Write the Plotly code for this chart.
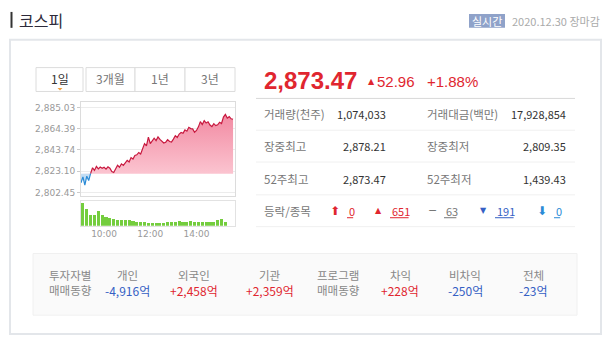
import numpy as np
import plotly.graph_objects as go

W, H = 604, 343

# ---- data -------------------------------------------------------------
times = [f"2020-12-30 {9 + (m // 60):02d}:{m % 60:02d}" for m in range(0, 400, 5)]
prices = [
    2811.8, 2817.5, 2809.4, 2818.2, 2813.9, 2820.9, 2826.3, 2823.8, 2827.6, 2825.2,
    2827.1, 2825.8, 2826.9, 2825.1, 2827.3, 2825.9, 2822.6, 2821.7, 2825.4, 2828.8,
    2826.9, 2830.2, 2828.7, 2831.4, 2833.6, 2831.9, 2836.2, 2834.8, 2838.3, 2838.9,
    2841.2, 2839.7, 2844.1, 2849.8, 2847.6, 2856.2, 2849.9, 2852.7, 2855.1, 2852.8,
    2856.3, 2853.9, 2851.8, 2850.4, 2851.2, 2853.7, 2851.9, 2851.3, 2854.2, 2857.6,
    2855.8, 2859.1, 2860.6, 2859.8, 2863.2, 2861.9, 2865.7, 2864.4, 2864.1, 2860.9,
    2862.6, 2866.1, 2871.2, 2868.4, 2872.1, 2869.8, 2871.0, 2867.9, 2866.4, 2869.2,
    2867.3, 2868.1, 2870.6, 2869.4, 2875.6, 2878.21, 2874.6, 2876.0, 2873.9, 2873.47,
]
prev_close = 2820.51

vol_times = [f"2020-12-30 {9 + (m // 60):02d}:{m % 60:02d}" for m in range(5, 385, 10)]
volumes = [
    104800, 75300, 49600, 47900, 67200, 49800, 42100, 37400, 30200, 28600,
    27100, 26800, 25400, 22700, 19600, 16400, 18100, 13600, 14900, 12100,
    13400, 15100, 17900, 16600, 19400, 19700, 19300, 19600, 21100, 19400,
    16600, 16300, 16700, 17800, 19600, 27200, 29900, 17900,
]

y_ticks = [2802.45, 2823.10, 2843.74, 2864.39, 2885.03]
time_ticks = ["2020-12-30 10:00", "2020-12-30 12:00", "2020-12-30 14:00"]
time_labels = ["10:00", "12:00", "14:00"]
tabs = ["1일", "3개월", "1년", "3년"]

index_name = "코스피"
last_price = 2873.47
change = 52.96
change_pct = 1.88
trade_date = "2020.12.30 장마감"

stats_rows = [
    ("거래량(천주)", "1,074,033", "거래대금(백만)", "17,928,854"),
    ("장중최고", "2,878.21", "장중최저", "2,809.35"),
    ("52주최고", "2,873.47", "52주최저", "1,439.43"),
]
breadth_labels = ["상한", "상승", "보합", "하락", "하한"]
breadth_counts = [0, 651, 63, 191, 0]

investors = ["개인", "외국인", "기관"]
investor_flows = [-4916, 2458, 2359]
programs = ["차익", "비차익", "전체"]
program_flows = [228, -250, -23]

# ---- style ------------------------------------------------------------
RED = "#e0262f"
BLUE = "#3560c4"
KR = "Noto Sans CJK KR"
LAT = "Liberation Sans"


def fx(x):
    return x / W


def fy(y):
    return 1 - y / H


annotations = []
shapes = []


def text(x, y, s, size=12, color="#333", anchor="left", family=KR):
    annotations.append(dict(
        x=fx(x), y=fy(y), xref="paper", yref="paper", text=s, showarrow=False,
        xanchor=anchor, yanchor="middle", font=dict(size=size, color=color, family=family),
    ))


def rect(x0, y0, x1, y1, line="#ddd", fill=None, width=1):
    shapes.append(dict(
        type="rect", xref="paper", yref="paper", x0=fx(x0), x1=fx(x1), y0=fy(y1), y1=fy(y0),
        line=dict(color=line, width=width), fillcolor=fill, layer="below",
    ))


def hline(x0, x1, y, color="#eee", width=1):
    shapes.append(dict(
        type="line", xref="paper", yref="paper", x0=fx(x0), x1=fx(x1), y0=fy(y), y1=fy(y),
        line=dict(color=color, width=width),
    ))


fig = go.Figure()

# ---- intraday price chart -------------------------------------------
p = np.array(prices)
base = np.full(len(p), prev_close)
up = np.maximum(p, prev_close)
dn = np.minimum(p, prev_close)

fig.add_trace(go.Scatter(x=times, y=base, mode="lines", line=dict(width=0),
                         hoverinfo="skip", showlegend=False))
fig.add_trace(go.Scatter(
    x=times, y=up, mode="lines", line=dict(width=0), fill="tonexty",
    fillgradient=dict(type="vertical", colorscale=[[0, "#fbc4d0"], [1, "#f28aa2"]]),
    hoverinfo="skip", showlegend=False))
fig.add_trace(go.Scatter(x=times, y=base, mode="lines", line=dict(width=0),
                         hoverinfo="skip", showlegend=False))
fig.add_trace(go.Scatter(x=times, y=dn, mode="lines", line=dict(width=0), fill="tonexty",
                         fillcolor="rgba(120,180,230,0.45)", hoverinfo="skip", showlegend=False))

# first index after which the price stays above the previous close
k = next(i for i in range(len(p)) if np.all(p[i:] >= prev_close))
fig.add_trace(go.Scatter(x=times[:k + 1], y=prices[:k + 1], mode="lines",
                         line=dict(color="#2b8bd6", width=1.2), showlegend=False))
fig.add_trace(go.Scatter(x=times[k:], y=prices[k:], mode="lines",
                         line=dict(color="#c8193f", width=1.2), showlegend=False))

# ---- volume bars ------------------------------------------------------
fig.add_trace(go.Bar(x=vol_times, y=volumes, xaxis="x2", yaxis="y2",
                     width=8 * 60 * 1000, marker=dict(color="#74cd3e", line=dict(width=0)),
                     showlegend=False))

x_range = ["2020-12-30 09:00", "2020-12-30 15:40"]
fig.update_layout(
    width=W, height=H, margin=dict(l=0, r=0, t=0, b=0),
    paper_bgcolor="white", plot_bgcolor="white",
    xaxis=dict(domain=[fx(81), fx(235)], range=x_range, type="date",
               showticklabels=False, showgrid=False, zeroline=False,
               showline=True, mirror=True, linecolor="#dcdcdc"),
    yaxis=dict(domain=[fy(197), fy(103)], range=[2799.07, 2889.86],
               tickvals=y_ticks, ticktext=[f"{v:,.2f}" for v in y_ticks],
               tickfont=dict(size=9, color="#999", family="DejaVu Sans"),
               ticks="outside", ticklen=3, tickcolor="#ccc",
               showgrid=True, gridcolor="#ececec", zeroline=False,
               showline=True, mirror=True, linecolor="#dcdcdc"),
    xaxis2=dict(domain=[fx(81), fx(235)], range=x_range, type="date", anchor="y2",
                tickvals=time_ticks, ticktext=time_labels,
                tickfont=dict(size=9, color="#999", family="DejaVu Sans"),
                showgrid=False, zeroline=False, ticks="",
                showline=True, mirror=True, linecolor="#e2e2e2"),
    yaxis2=dict(domain=[fy(227), fy(202)], range=[0, 112000], anchor="x2",
                showticklabels=False, showgrid=False, zeroline=False,
                showline=True, mirror=True, linecolor="#e2e2e2"),
    bargap=0,
)

# ---- frame & header ---------------------------------------------------
rect(10, 40, 601, 336, line="#e3e6ea", width=2)
rect(10.5, 12, 12.5, 28, line="#333", fill="#333", width=0)
text(17, 20, index_name, size=16, color="#2d2a3a")
rect(469, 14, 505, 28, line="#8fa2c9", fill="#8fa2c9", width=0)
text(487, 21, "실시간", size=11, color="white", anchor="center")
text(510, 21, trade_date, size=11, color="#aaa")

# ---- period tabs ------------------------------------------------------
tab_edges = [(36, 83), (86, 135), (135, 185), (185, 235)]
for i, (label, (a, b)) in enumerate(zip(tabs, tab_edges)):
    rect(a, 68, b, 92, line="#dcdcdc", fill="white")
    text((a + b) / 2, 79, label, size=12, color="#333" if i == 0 else "#777", anchor="center")
# small caret marking the selected tab
shapes.append(dict(
    type="path", xref="paper", yref="paper",
    path=f"M {fx(57.5)} {fy(88.5)} L {fx(62.5)} {fy(88.5)} L {fx(60)} {fy(91)} Z",
    fillcolor="#f0a040", line=dict(width=0),
))

# ---- price headline ---------------------------------------------------
text(262, 81, f"<b>{last_price:,.2f}</b>", size=24, color=RED, family=LAT)
text(366, 82, "▲", size=8, color=RED, family="DejaVu Sans")
text(375, 82, f"{change:.2f}", size=15, color=RED, family=LAT)
text(425, 82, f"+{change_pct:.2f}%", size=15, color=RED, family=LAT)
hline(256, 575, 99, color="#d9d9d9")

# ---- stats table ------------------------------------------------------
row_y = [115, 147, 180, 212]
for (l1, v1, l2, v2), y in zip(stats_rows, row_y):
    text(262, y, l1, size=11.5, color="#777")
    text(388, y, v1, size=11, color="#333", anchor="right")
    text(425, y, l2, size=11.5, color="#777")
    text(568, y, v2, size=11, color="#333", anchor="right")
for y in [131, 163, 196, 228]:
    hline(256, 575, y, color="#f0f0f0")

text(262, row_y[3], "등락/종목", size=11.5, color="#777")
marks = ["⬆", "▲", "−", "▼", "⬇"]
mark_sizes = [12, 8, 11, 8, 12]
mark_x = [335, 378, 432, 483, 542]
mark_colors = [RED, RED, "#777", BLUE, "#2b8bd6"]
for cnt, mk, ms, mx, mc in zip(breadth_counts, marks, mark_sizes, mark_x, mark_colors):
    text(mx, row_y[3], mk, size=ms, color=mc, anchor="center", family="DejaVu Sans")
    num = f"{cnt}"
    text(mx + 12, row_y[3], num, size=11, color=mc, family=KR)
    hline(mx + 12, mx + 12 + 6.2 * len(num), row_y[3] + 7, color=mc, width=1)

# ---- investor / program trading strip --------------------------------
rect(33, 255, 577, 317, line="#f0f0f0", fill="#fafafa")
text(47, 277, "투자자별", size=11.5, color="#888")
text(47, 292, "매매동향", size=11.5, color="#888")
text(338, 277, "프로그램", size=11.5, color="#888", anchor="center")
text(338, 292, "매매동향", size=11.5, color="#888", anchor="center")


def flow(v):
    return (f"+{v:,}억" if v > 0 else f"-{abs(v):,}억"), (RED if v > 0 else BLUE)


for name, v, cx in zip(investors + programs, investor_flows + program_flows,
                       [127, 194, 270, 400, 465, 533]):
    text(cx, 277, name, size=11.5, color="#888", anchor="center")
    s, c = flow(v)
    text(cx, 292, s, size=12, color=c, anchor="center")

fig.update_layout(annotations=annotations, shapes=shapes)
fig.write_html("out.html")
